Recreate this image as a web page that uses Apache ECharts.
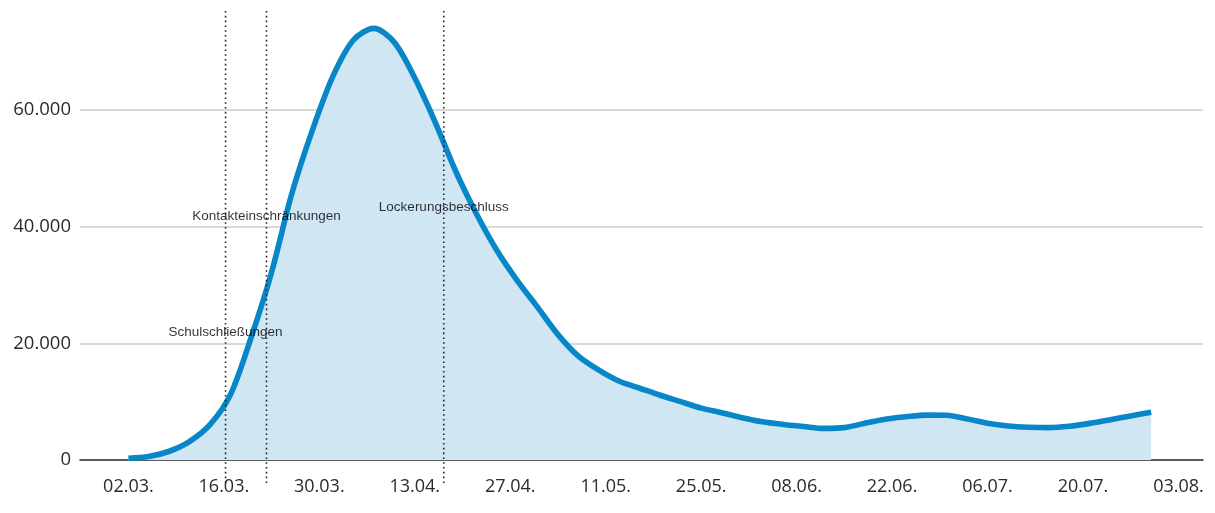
<!DOCTYPE html>
<html>
<head>
<meta charset="utf-8">
<script src="https://cdn.jsdelivr.net/npm/echarts@6/dist/echarts.min.js"></script>
<style>
html,body{margin:0;padding:0;background:#fff;}
#chart{width:1215px;height:513px;}
</style>
</head>
<body>
<div id="chart"></div>
<script>
// ---- data ----
var startDate = '2020-03-02';
var dates = ['2020-03-02','2020-03-05','2020-03-08','2020-03-11','2020-03-14','2020-03-17','2020-03-20','2020-03-23','2020-03-26','2020-03-29',
             '2020-04-01','2020-04-04','2020-04-07','2020-04-10','2020-04-13','2020-04-16','2020-04-19','2020-04-22','2020-04-25','2020-04-28',
             '2020-05-01','2020-05-04','2020-05-07','2020-05-10','2020-05-13','2020-05-16','2020-05-19','2020-05-22','2020-05-25','2020-05-28',
             '2020-05-31','2020-06-03','2020-06-06','2020-06-09','2020-06-12','2020-06-15','2020-06-18','2020-06-21','2020-06-24','2020-06-27',
             '2020-06-30','2020-07-03','2020-07-06','2020-07-09','2020-07-12','2020-07-15','2020-07-18','2020-07-21','2020-07-24','2020-07-27',
             '2020-07-30'];
var activeCases = [300,600,1500,3200,6100,11300,21000,32200,45800,56600,
                   65800,72000,74000,71600,65500,57900,49500,42300,36000,30800,
                   26200,21500,17800,15400,13500,12300,11100,10000,8900,8100,
                   7250,6550,6100,5750,5420,5550,6300,7000,7400,7700,
                   7680,7050,6300,5830,5620,5550,5790,6280,6900,7560,
                   8200];
var eventDates = ['2020-03-16','2020-03-22','2020-04-17'];
var eventNames = ['Schulschließungen','Kontakteinschränkungen','Lockerungsbeschluss'];
var eventLabelValues = [21900, 41800, 43400];
var xTickDates = ['2020-03-02','2020-03-16','2020-03-30','2020-04-13','2020-04-27','2020-05-11','2020-05-25','2020-06-08','2020-06-22','2020-07-06','2020-07-20','2020-08-03'];
var yTicks = [0, 20000, 40000, 60000];

// ---- helpers ----
function dayOffset(s) {
  return (Date.parse(s + 'T00:00:00Z') - Date.parse(startDate + 'T00:00:00Z')) / 86400000;
}
function fmtDate(s) {
  var p = s.split('-');
  return p[2] + '.' + p[1] + '.';
}
function fmtNum(v) {
  return String(v).replace(/(\d)(?=(\d{3})+$)/g, '$1.');
}
var tickDays = xTickDates.map(dayOffset);
var tickLabelMap = {};
xTickDates.forEach(function (d) { tickLabelMap[dayOffset(d)] = fmtDate(d); });

var lineData = dates.map(function (d, i) { return [dayOffset(d), activeCases[i]]; });
var eventDays = eventDates.map(dayOffset).map(function (d) { return d + 0.25; });

var X_MIN = -7.1, X_MAX = 157.6;
var Y_MAX = 78860;

var series = [{
  type: 'line',
  data: lineData,
  smooth: 0.3,
  symbol: 'none',
  xAxisIndex: 0, yAxisIndex: 0,
  lineStyle: { color: '#0786c8', width: 5.6 },
  areaStyle: { color: '#d0e6f3', opacity: 1 },
  z: 2
}, {
  type: 'scatter',
  xAxisIndex: 0, yAxisIndex: 0,
  symbolSize: 0,
  silent: true,
  data: eventDays.map(function (d, i) { return { value: [d, eventLabelValues[i]], name: eventNames[i] }; }),
  label: {
    show: true, position: 'inside',
    formatter: function (p) { return p.name; },
    color: '#000', fontFamily: 'Liberation Sans, Arial, sans-serif', fontSize: 13.5
  },
  z: 4
}];
eventDays.forEach(function (d) {
  series.push({
    type: 'line',
    xAxisIndex: 1, yAxisIndex: 1,
    data: [[d, 0], [d, 1]],
    symbol: 'none',
    silent: true,
    lineStyle: { color: '#222', width: 1.6, type: [1.6, 3.2] },
    z: 5
  });
});

var chart = echarts.init(document.getElementById('chart'), null, { renderer: 'canvas' });
chart.setOption({
  animation: false,
  backgroundColor: '#ffffff',
  grid: [
    { left: 80, right: 12, top: 0, bottom: 53 },
    { left: 80, right: 12, top: 10, bottom: 30 }
  ],
  xAxis: [{
    type: 'value', gridIndex: 0, min: X_MIN, max: X_MAX,
    axisLine: { show: true, onZero: true, lineStyle: { color: '#333', width: 1.6 } },
    axisTick: { show: false },
    splitLine: { show: false },
    axisLabel: {
      customValues: tickDays,
      formatter: function (v) { return tickLabelMap[v] || ''; },
      color: '#2b2b2b', fontFamily: 'Open Sans, sans-serif', fontSize: 18, margin: 18
    }
  }, {
    type: 'value', gridIndex: 1, min: X_MIN, max: X_MAX, show: false
  }],
  yAxis: [{
    type: 'value', gridIndex: 0, min: 0, max: Y_MAX, interval: 20000,
    axisLine: { show: false },
    axisTick: { show: false },
    splitLine: { show: true, showMaxLine: false, lineStyle: { color: '#cccccc', width: 1.5 } },
    axisLabel: {
      customValues: yTicks,
      formatter: function (v) { return fmtNum(v); },
      color: '#2b2b2b', fontFamily: 'Open Sans, sans-serif', fontSize: 18.5, margin: 9
    }
  }, {
    type: 'value', gridIndex: 1, min: 0, max: 1, show: false
  }],
  series: series
});
</script>
</body>
</html>
